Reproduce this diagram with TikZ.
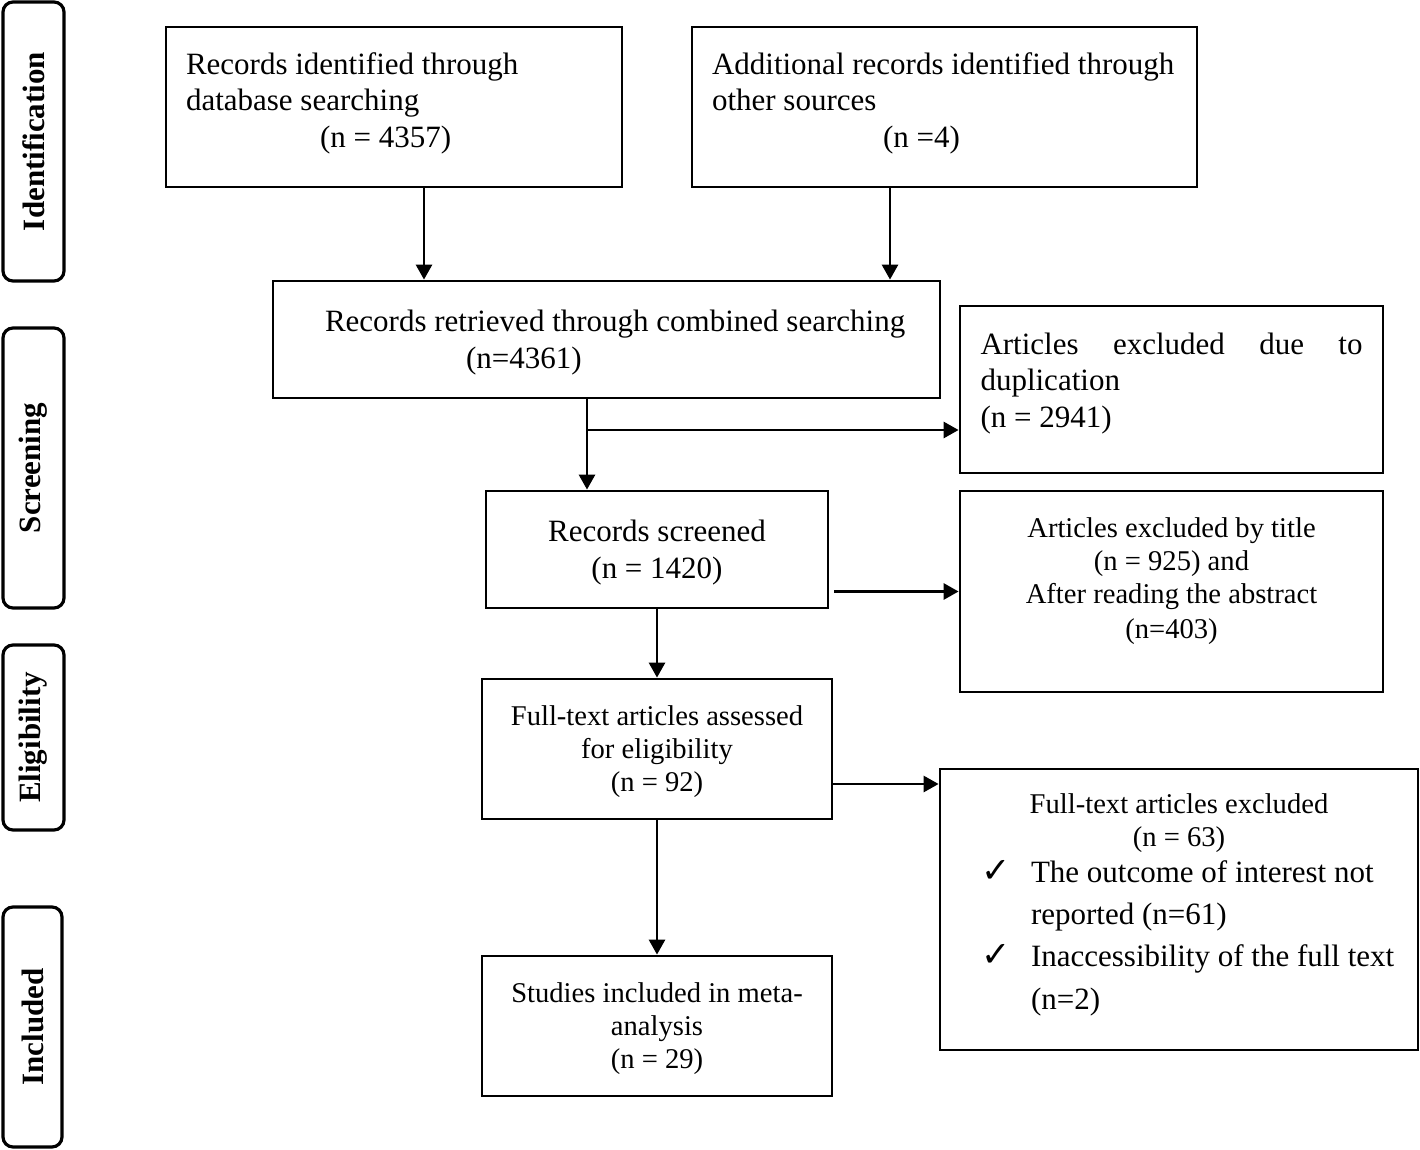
\documentclass[tikz,border=0pt]{standalone}
\usepackage{fontspec}
\setmainfont{Liberation Serif}
\newfontfamily\symfont{DejaVu Sans}
\usepackage{array}
\usetikzlibrary{arrows.meta,calc}
\newcommand\bigf{\fontsize{15.5}{18.25}\selectfont}
\newcommand\smf{\fontsize{14.3}{16.5}\selectfont}
\newcommand\chk{\leavevmode\llap{{\symfont\bfseries\fontsize{17.5}{18}\selectfont ✓}\hspace{10pt}}}
\newcommand\tpb{\rule{0pt}{15.8pt}}
\newcommand\tps{\rule{0pt}{14.55pt}}
\begin{document}
\begin{tikzpicture}[x=0.5pt,y=-0.5pt,
  box/.style={draw, line width=1.4pt, inner sep=0pt, font=\bigf},
  sbox/.style={draw, line width=1.4pt, inner sep=0pt, font=\smf},
  side/.style={draw, line width=1.6pt, rounded corners=5pt, inner sep=0pt,
    rotate=90, minimum height=30.5pt, font=\bigf\bfseries},
  arr/.style={line width=1.4pt, -{Triangle[length=7.5pt,width=8pt]}}]
\useasboundingbox (0,0) rectangle (1420,1150);

% phase labels
\node[side, minimum width=139.5pt] (ident) at (33.5,141.5) {Identification};
\node[side, minimum width=140pt] (screen) at (33.5,468) {Screening};
\node[side, minimum width=92.5pt] (elig) at (33.5,737.5) {Eligibility};
\node[side, minimum width=120pt, minimum height=29.5pt] (incl) at (32.5,1027) {Included};

% boxes
\node[box, minimum width=228pt, minimum height=80pt] (A) at (394,107)
{\begin{tabular}{@{}>{\raggedright\arraybackslash}p{208pt}@{}}
\mbox{Records identified through}\\
database searching\\
\hspace*{67pt}(n = 4357)\\[3.5pt]
\end{tabular}};

\node[box, minimum width=252.5pt, minimum height=80pt] (B) at (944.5,107)
{\begin{tabular}{@{}>{\raggedright\arraybackslash}p{232.5pt}@{}}
\mbox{Additional records identified through}\\
other sources\\
\hspace*{85.5pt}(n =4)\\[3.5pt]
\end{tabular}};

\node[box, minimum width=333.5pt, minimum height=58.5pt] (C) at (606.5,339.5)
{\begin{tabular}{@{}>{\raggedright\arraybackslash}p{281.5pt}@{}}
\tpb\mbox{Records retrieved through combined searching}\\
\hspace*{70.5pt}(n=4361)
\end{tabular}};

\node[box, minimum width=211.5pt, minimum height=83.5pt] (D) at (1171.5,389.5)
{\begin{tabular}{@{}>{\raggedright\arraybackslash}p{191pt}@{}}
\makebox[191pt][l]{Articles\hfill excluded\hfill due\hfill to}\\
duplication\\
(n = 2941)\\[6pt]
\end{tabular}};

\node[box, minimum width=171pt, minimum height=58.5pt] (E) at (657,549.5)
{\begin{tabular}{@{}c@{}}
\tpb Records screened\\
(n = 1420)
\end{tabular}};

\node[sbox, minimum width=211.5pt, minimum height=100.5pt] (F) at (1171.5,591.5)
{\begin{tabular}{@{}c@{}}
Articles excluded by title\\
(n = 925) and\\
After reading the abstract\\[1pt]
(n=403)\\[10pt]
\end{tabular}};

\node[sbox, minimum width=175pt, minimum height=70pt] (G) at (657,749)
{\begin{tabular}{@{}c@{}}
\tps Full-text articles assessed\\
for eligibility\\
(n = 92)
\end{tabular}};

\node[sbox, minimum width=239pt, minimum height=140.5pt] (H) at (1179,909.5)
{\begin{tabular}{@{}>{\raggedright\arraybackslash}p{148pt}@{}}
\makebox[148pt][c]{Full-text articles excluded}\\
\makebox[148pt][c]{(n = 63)}\\[1.5pt]
\chk{\bigf\mbox{The outcome of interest not}}\\[4.5pt]
{\bigf\mbox{reported (n=61)}}\\[4.5pt]
\chk{\bigf\mbox{Inaccessibility of the full text}}\\[5pt]
{\bigf\mbox{(n=2)}}\\[5pt]
\end{tabular}};

\node[sbox, minimum width=175pt, minimum height=70pt] (I) at (657,1026)
{\begin{tabular}{@{}c@{}}
\tps Studies included in meta-\\
analysis\\
(n = 29)
\end{tabular}};

% connectors
\coordinate (xa) at (424,0);
\coordinate (xb) at (890,0);
\coordinate (br) at (587,430);
\coordinate (ygh) at (0,784);
\draw[arr] (A.south -| xa) -- (C.north -| xa);
\draw[arr] (B.south -| xb) -- (C.north -| xb);
\draw[arr] (C.south -| br) -- (E.north -| br);
\draw[arr] (br) -- (br -| D.west);
\draw[arr] ($(E.east |- F.west)+(5,0)$) -- (F.west);
\draw[arr] (E.south) -- (G.north);
\draw[arr] (G.east |- ygh) -- (H.west |- ygh);
\draw[arr] (G.south) -- (I.north);
\end{tikzpicture}
\end{document}
